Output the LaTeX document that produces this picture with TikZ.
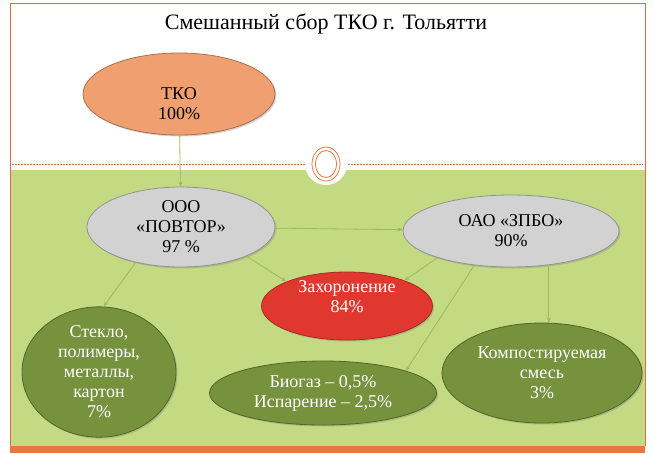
\documentclass[tikz,border=0pt]{standalone}
\usepackage{fontspec}
\setmainfont{Liberation Serif}
\usetikzlibrary{arrows.meta,shapes.geometric,shadows}
\definecolor{frame}{HTML}{E06A4A}
\definecolor{meadow}{HTML}{C3D982}
\definecolor{band}{HTML}{E8763E}
\definecolor{link}{HTML}{9BBB59}
\definecolor{peach}{HTML}{F0A070}
\definecolor{stone}{HTML}{D2D2D2}
\definecolor{blood}{HTML}{E0382F}
\definecolor{moss}{HTML}{76923C}

\begin{document}
\begin{tikzpicture}[x=1pt,y=-1pt,>={Stealth[length=5pt,width=4pt]},
 blob/.style={ellipse,draw,thick,inner sep=0pt,align=center,font=\fontsize{18}{20}\selectfont,drop shadow={opacity=.35,shadow xshift=1.5pt,shadow yshift=-1.5pt}},
 graybox/.style={blob,fill=stone,draw=gray!85},
 greenbox/.style={blob,fill=moss,draw=moss!70!black,text=white},
 inside/.style={align=center,font=\fontsize{18}{20}\selectfont},
 flow/.style={->,draw=link,thick}]
 \useasboundingbox (0,0) rectangle (653,453);
 % background, frame, divider
 \fill[meadow] (10,170) rectangle (645,446);
 \fill[band] (10,446) rectangle (645,453);
 \draw[frame,thin] (10,446) -- (10,3) -- (645,3) -- (645,446);
 \draw[frame,line width=.8pt,dash pattern=on 1.5pt off 1.5pt] (12,164) -- (643,164);
 \fill[white] (326,164) circle (21);
 \draw[band,thick] (326,164) ellipse (14 and 17);
 \draw[band,thick] (326,164) ellipse (10.5 and 13.5);
 \node[font=\fontsize{22}{24}\selectfont] (title) at (326,24) {Смешанный сбор ТКО г. Тольятти};
 % nodes
 \node[blob,fill=peach,draw=peach!70!black,minimum width=192,minimum height=82,
   label={[inside,name=tkotext,yshift=-10pt]center:{ТКО\\100\%}}] (tko) at (179,94) {};
 \node[graybox,minimum width=188,minimum height=80] (povtor) at (181,227) {ООО\\«ПОВТОР»\\97 \%};
 \node[graybox,minimum width=216,minimum height=72] (zpbo) at (511,231) {ОАО «ЗПБО»\\90\%};
 \node[blob,fill=blood,draw=blood!75!black,minimum width=171,minimum height=68,
   label={[inside,text=white,name=burialtext,yshift=9pt]center:{Захоронение\\84\%}}] (burial) at (347,306) {};
 \node[greenbox,minimum width=154,minimum height=130] (glass) at (99,372) {Стекло,\\полимеры,\\металлы,\\картон\\7\%};
 \node[greenbox,minimum width=227,minimum height=64] (biogas) at (323,393) {Биогаз – 0,5\%\\Испарение – 2,5\%};
 \node[greenbox,minimum width=200,minimum height=100] (compost) at (542,373) {Компостируемая\\смесь\\3\%};
 % connectors
 \draw[flow] (tko) -- (povtor);
 \draw[flow] (povtor) -- (zpbo);
 \draw[flow] (povtor.336) -- (burial.158);
 \draw[flow] (povtor.218) -- (glass.86);
 \draw[flow] (zpbo.200) -- (burial.24);
 \draw[flow] (zpbo.223) -- (biogas.15);
 \draw[flow] (zpbo.318) -- (zpbo.318 |- compost.north);
\end{tikzpicture}
\end{document}
